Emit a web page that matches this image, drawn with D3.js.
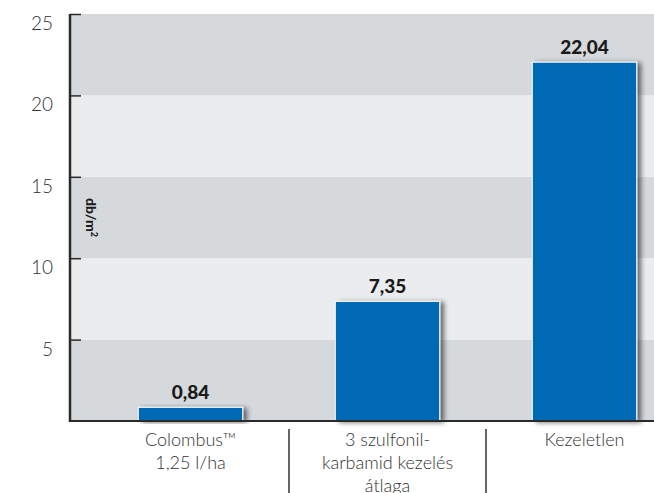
<!DOCTYPE html>
<html>
<head>
<meta charset="utf-8">
<script src="https://cdn.jsdelivr.net/npm/d3@7"></script>
<style>
  body { margin: 0; background: #fff; }
  svg { display: block; font-family: "Lato", "Open Sans", sans-serif; }
</style>
</head>
<body>
<svg id="chart" width="654" height="493"></svg>
<script>
const categories = ["Colombus", "3 szulfonil", "Kezeletlen"];
const categoryLines = [["Colombus™", "1,25 l/ha"], ["3 szulfonil-", "karbamid kezelés", "átlaga"], ["Kezeletlen"]];
const values = [0.84, 7.35, 22.04];
const yTicks = [5, 10, 15, 20, 25];
const bandEdges = [0, 5, 10, 15, 20, 25];

const svg = d3.select("#chart");
const width = 654, height = 493;
const plotLeft = 70, plotTop = 14, plotBottom = 421;

const huFormat = d3.formatLocale({decimal: ",", thousands: " ", grouping: [3], currency: ["", ""]}).format(".2f");

const x = d3.scaleBand()
    .domain(categories)
    .range([92, 683])
    .paddingInner(0.47)
    .paddingOuter(0.235);

const y = d3.scaleLinear()
    .domain([0, 25])
    .range([plotBottom, plotTop]);

const defs = svg.append("defs");
const shadow = defs.append("filter")
    .attr("id", "shadow")
    .attr("x", "-20%").attr("y", "-20%")
    .attr("width", "150%").attr("height", "140%");
shadow.append("feDropShadow")
    .attr("dx", 4).attr("dy", 1)
    .attr("stdDeviation", 2.5)
    .attr("flood-color", "#000")
    .attr("flood-opacity", 0.55);

// background bands
const bands = d3.pairs(bandEdges);
svg.append("g")
  .selectAll("rect")
  .data(bands)
  .enter().append("rect")
    .attr("x", plotLeft)
    .attr("y", d => y(d[1]))
    .attr("width", width - plotLeft)
    .attr("height", d => y(d[0]) - y(d[1]))
    .attr("fill", (d, i) => i % 2 === 0 ? "#d6d9dc" : "#ebecee");

// y axis title
svg.append("text")
    .attr("transform", `translate(86,${y(12.5)}) rotate(90)`)
    .attr("text-anchor", "middle")
    .attr("font-size", 14)
    .attr("font-weight", "900")
    .attr("fill", "#1a1a1a")
    .html("db/m<tspan dy='-5' font-size='9'>2</tspan>");

// bars
svg.append("g")
  .selectAll("rect")
  .data(values)
  .enter().append("rect")
    .attr("x", (d, i) => x(categories[i]))
    .attr("y", d => y(d))
    .attr("width", x.bandwidth())
    .attr("height", d => y(0) - y(d))
    .attr("fill", "#0069b4")
    .attr("stroke", "#fff")
    .attr("stroke-width", 1)
    .attr("filter", "url(#shadow)");

// value labels
svg.append("g")
  .selectAll("text")
  .data(values)
  .enter().append("text")
    .attr("x", (d, i) => x(categories[i]) + x.bandwidth() / 2)
    .attr("y", d => y(d) - 8)
    .attr("text-anchor", "middle")
    .attr("font-size", 19)
    .attr("font-weight", "900")
    .attr("fill", "#1a1a1a")
    .text(d => huFormat(d));

// axes
const yAxis = svg.append("g")
    .attr("transform", `translate(${plotLeft},0)`)
    .call(d3.axisRight(y).tickValues(yTicks).tickSize(11).tickFormat(""));
yAxis.select(".domain").remove();
yAxis.selectAll(".tick line").attr("stroke", "#2a2a2a").attr("stroke-width", 1.5);

svg.append("line")
    .attr("x1", plotLeft).attr("x2", plotLeft)
    .attr("y1", plotTop).attr("y2", plotBottom + 1)
    .attr("stroke", "#2a2a2a").attr("stroke-width", 2.5);
svg.append("line")
    .attr("x1", plotLeft - 1).attr("x2", width)
    .attr("y1", plotBottom).attr("y2", plotBottom)
    .attr("stroke", "#2a2a2a").attr("stroke-width", 2);

// y tick labels
svg.append("g")
  .selectAll("text")
  .data(yTicks)
  .enter().append("text")
    .attr("x", 53)
    .attr("y", d => y(d) + 16)
    .attr("text-anchor", "end")
    .attr("font-size", 19)
    .attr("font-weight", 300)
    .attr("fill", "#333")
    .text(d => d);

// category labels
const step = x.step();
svg.append("g")
  .selectAll("text")
  .data(categoryLines)
  .enter().append("text")
    .attr("text-anchor", "middle")
    .attr("font-size", 18)
    .attr("font-weight", 300)
    .attr("fill", "#333")
  .each(function(lines, i) {
    const cx = x(categories[i]) + x.bandwidth() / 2;
    d3.select(this).selectAll("tspan")
      .data(lines)
      .enter().append("tspan")
        .attr("x", cx)
        .attr("y", (d, j) => 446 + j * 23)
        .text(d => d);
  });

// separators between categories
svg.append("g")
  .selectAll("line")
  .data(categories.slice(1))
  .enter().append("line")
    .attr("x1", d => x(d) - step * x.paddingInner() / 2)
    .attr("x2", d => x(d) - step * x.paddingInner() / 2)
    .attr("y1", 429)
    .attr("y2", height)
    .attr("stroke", "#333")
    .attr("stroke-width", 1.5);
</script>
</body>
</html>
